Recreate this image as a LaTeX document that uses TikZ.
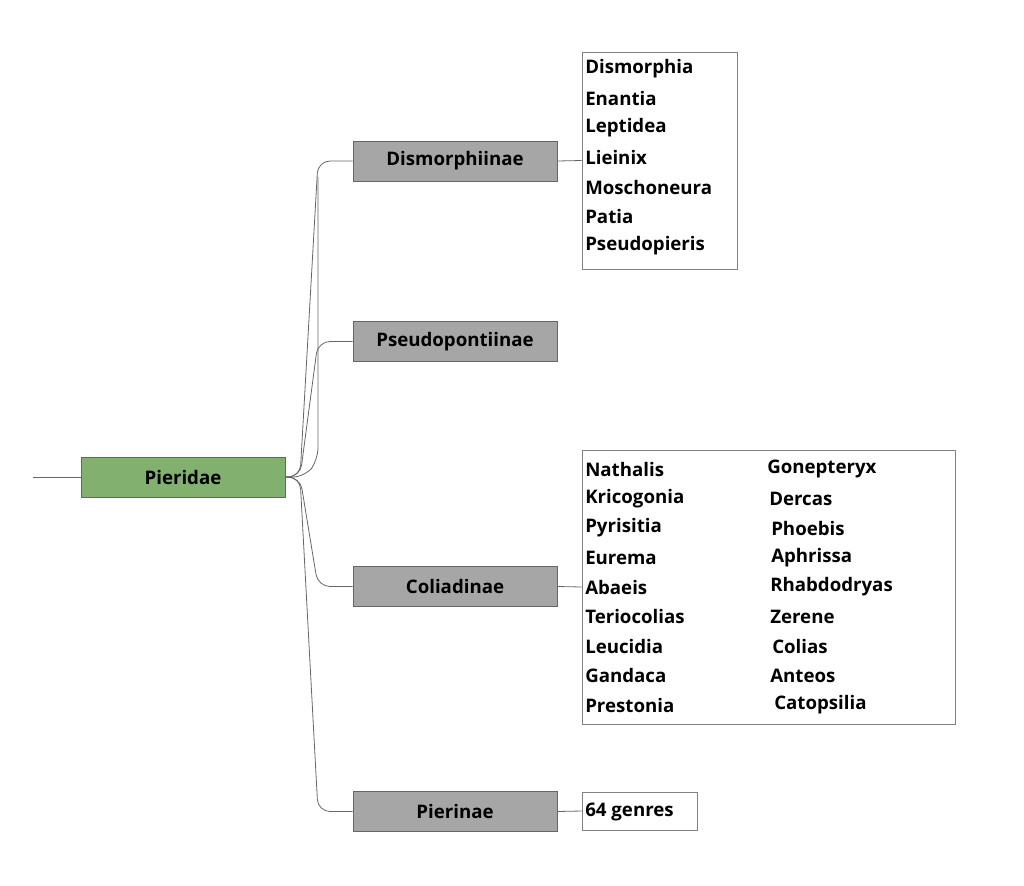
\documentclass[tikz,border=0pt]{standalone}
\usepackage{fontspec}
\setmainfont{Open Sans}
\begin{document}
\begin{tikzpicture}[x=0.75pt,y=-0.75pt,
  cat/.style={draw=black!60,fill=black!35,minimum width=204*0.75pt,minimum height=40*0.75pt,inner sep=0pt,font=\bfseries\fontsize{14}{16}\selectfont},
  root/.style={cat,fill=green!25!black!40!green!10,fill={rgb,255:red,130;green,176;blue,110}},
  lst/.style={draw=black!50,fill=white,inner sep=0pt},
  gen/.style={anchor=west,inner sep=0pt,font=\bfseries\fontsize{14}{16}\selectfont},
  conn/.style={draw=black!60,line width=0.6pt,rounded corners=12*0.75pt}]
\useasboundingbox (0,0) rectangle (1024,885);
\node[root] (p) at (183,477) {Pieridae};
\coordinate (in) at (33,477);
\draw[conn] (in) -- (p.west);
\node[cat] (d) at (455,161) {Dismorphiinae};
\node[cat] (ps) at (455,341.5) {Pseudopontiinae};
\node[cat] (c) at (455,586.5) {Coliadinae};
\node[cat] (pi) at (455,811.5) {Pierinae};
\foreach \n in {d,ps,c,pi}{\draw[conn] (p.east) -- (300,477) -- (318,477|-\n.west) -- (\n.west);}
\draw[conn] (p.east) -- (305,477) -- (318,460) -- (318,\the\numexpr 177\relax) ;
\node[lst,minimum width=155*0.75pt,minimum height=217*0.75pt] (l1) at (659.5,160.5) {};
\node[lst,minimum width=373*0.75pt,minimum height=274*0.75pt] (l2) at (768.5,587) {};
\node[lst,minimum width=115*0.75pt,minimum height=38*0.75pt] (l3) at (639.5,811) {};
\draw[conn] (d.east) -- (l1.west);
\draw[conn] (c.east) -- (l2.west);
\draw[conn] (pi.east) -- (l3.west);
\foreach \t [count=\i from 0] in {Dismorphia,Enantia,Leptidea,Lieinix,Moschoneura,Patia,Pseudopieris}
  \node[gen] (a\i) at (585,69+29.5*\i) {\t};
\foreach \t [count=\i from 0] in {Nathalis,Kricogonia,Pyrisitia,Eurema,Abaeis,Teriocolias,Leucidia,Gandaca,Prestonia}
  \node[gen] (b\i) at (585,469+29.5*\i) {\t};
\foreach \t/\x [count=\i from 0] in {Gonepteryx/767,Dercas/769,Phoebis/771,Aphrissa/771,Rhabdodryas/770,Zerene/770,Colias/772,Anteos/770,Catopsilia/774}
  \node[gen] (e\i) at (\x,469+29.5*\i) {\t};
\node[gen] (g) at (585,812) {64 genres};
\end{tikzpicture}
\end{document}
